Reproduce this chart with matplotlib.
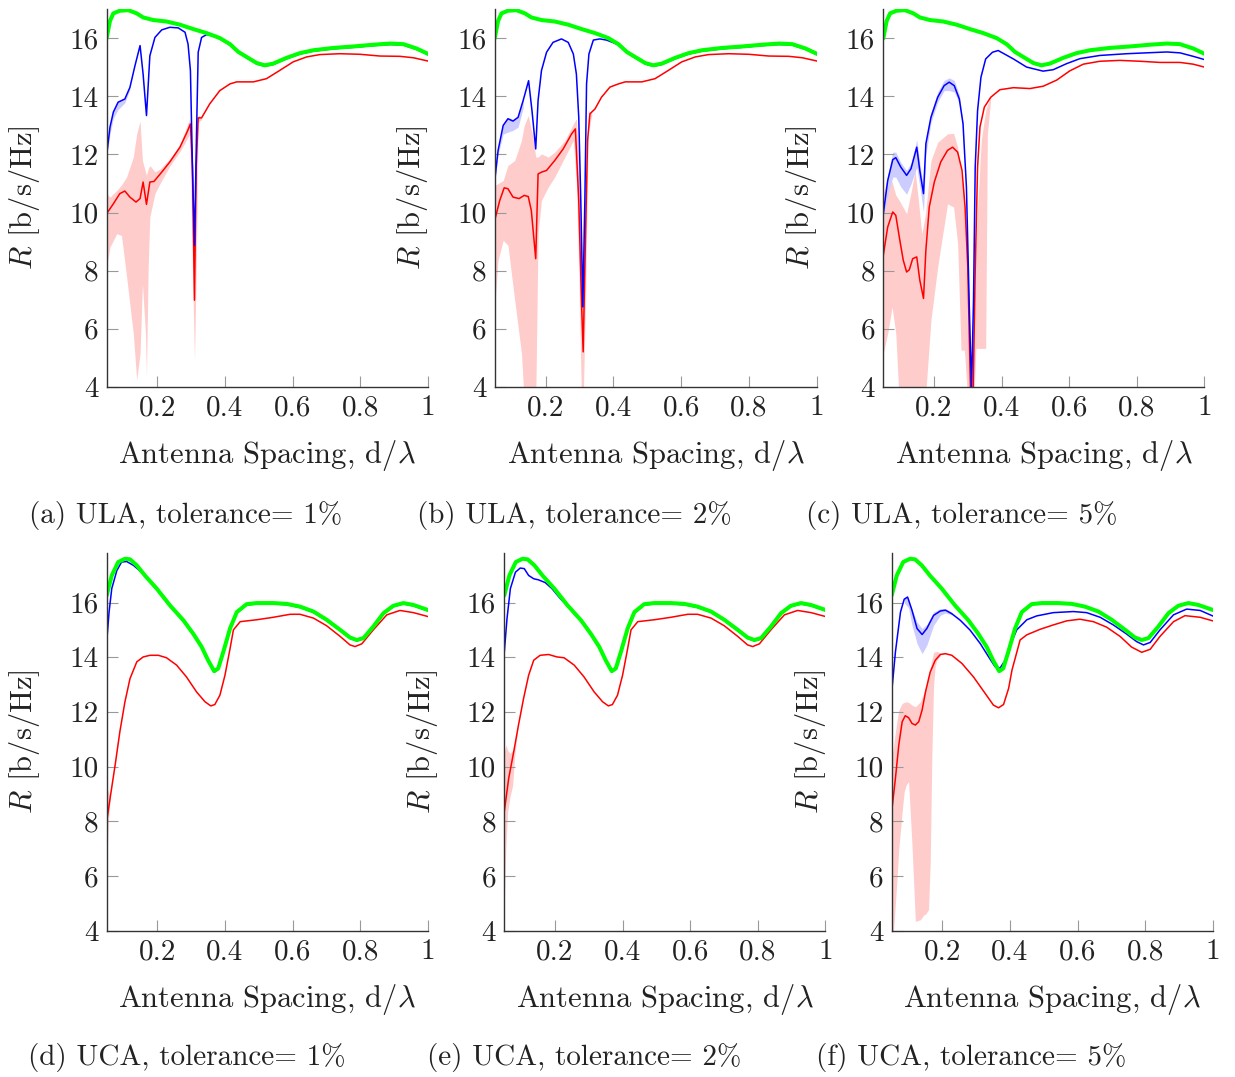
import matplotlib.pyplot as plt

plt.rcParams['font.family'] = 'cmr10'
plt.rcParams['mathtext.fontset'] = 'cm'
plt.rcParams['axes.formatter.use_mathtext'] = True

# ---------------- data ----------------
# ideal curve, shared by the three ULA panels
x_green_ula = [0.05, 0.06, 0.07, 0.089, 0.114, 0.139, 0.158, 0.188, 0.227, 0.267, 0.306, 0.346,
               0.385, 0.415, 0.44, 0.464, 0.494, 0.518, 0.543, 0.583, 0.622, 0.662, 0.721, 0.78,
               0.839, 0.889, 0.928, 0.967, 1.0]
green_ula = [16.0, 16.6, 16.86, 16.95, 16.97, 16.86, 16.72, 16.63, 16.58, 16.47, 16.32, 16.18,
             16.01, 15.8, 15.53, 15.36, 15.15, 15.07, 15.13, 15.33, 15.49, 15.59, 15.67, 15.72,
             15.78, 15.82, 15.8, 15.65, 15.47]

# ideal curve, shared by the three UCA panels
x_green_uca = [0.05, 0.065, 0.084, 0.104, 0.119, 0.139, 0.163, 0.198, 0.237, 0.277, 0.306, 0.331,
               0.35, 0.368, 0.38, 0.395, 0.415, 0.435, 0.464, 0.494, 0.543, 0.583, 0.622, 0.662,
               0.701, 0.741, 0.77, 0.79, 0.81, 0.839, 0.869, 0.898, 0.928, 0.958, 1.0]
green_uca = [16.26, 16.99, 17.48, 17.6, 17.58, 17.36, 16.99, 16.51, 15.9, 15.35, 14.86, 14.38,
             13.89, 13.49, 13.59, 14.19, 15.05, 15.65, 15.94, 15.98, 15.98, 15.95, 15.85, 15.67,
             15.37, 15.0, 14.72, 14.63, 14.7, 15.12, 15.61, 15.88, 15.98, 15.91, 15.73]

# tail of the ULA curves (x >= 0.415) where blue sits on the green line
x_tail_ula = [0.415, 0.44, 0.464, 0.494, 0.518, 0.543, 0.583, 0.622, 0.662, 0.721, 0.78, 0.839,
              0.889, 0.928, 0.967, 1.0]
blue_tail_ula = [15.77, 15.51, 15.33, 15.12, 15.04, 15.1, 15.3, 15.46, 15.56, 15.64, 15.69, 15.75,
                 15.79, 15.77, 15.62, 15.44]
x_red_tail_ula = [0.435, 0.484, 0.523, 0.563, 0.602, 0.642, 0.681, 0.74, 0.8, 0.859, 0.918, 0.958, 1.0]
red_tail_ula = [14.5, 14.5, 14.61, 14.9, 15.19, 15.36, 15.44, 15.47, 15.45, 15.39, 15.38, 15.33, 15.22]

# (a) ULA 1%
x_blue_a = [0.05, 0.06, 0.07, 0.084, 0.104, 0.119, 0.134, 0.149, 0.158, 0.168, 0.178, 0.193, 0.213,
            0.237, 0.262, 0.282, 0.291, 0.298, 0.304, 0.31, 0.316, 0.321, 0.331, 0.346, 0.365, 0.385] + x_tail_ula
blue_a = [11.97, 12.94, 13.46, 13.8, 13.91, 14.31, 15.06, 15.75, 14.77, 13.34, 15.4, 16.03, 16.29,
          16.38, 16.36, 16.21, 15.8, 14.89, 11.56, 8.87, 12.71, 15.52, 16.03, 16.13, 16.08, 15.98] + blue_tail_ula
xs_blue_a = [0.05, 0.06, 0.07, 0.084, 0.104, 0.119]
blue_lo_a = [11.9, 12.7, 13.25, 13.55, 13.78, 14.25]
blue_hi_a = [12.05, 13.0, 13.5, 13.83, 13.93, 14.33]
x_red_a = [0.05, 0.07, 0.089, 0.104, 0.119, 0.137, 0.149, 0.158, 0.168, 0.178, 0.19, 0.213, 0.237,
           0.267, 0.288, 0.298, 0.304, 0.31, 0.315, 0.321, 0.331, 0.355, 0.385, 0.415] + x_red_tail_ula
red_a = [9.96, 10.3, 10.65, 10.74, 10.53, 10.36, 10.48, 11.05, 10.28, 11.05, 11.07, 11.39, 11.74,
         12.25, 12.77, 13.05, 11.56, 6.98, 11.56, 13.26, 13.26, 13.74, 14.2, 14.43] + red_tail_ula
xs_red_a = [0.05, 0.06, 0.08, 0.094, 0.109, 0.129, 0.139, 0.149, 0.156, 0.165, 0.168, 0.173, 0.178,
            0.193, 0.208, 0.237, 0.267, 0.296, 0.304, 0.31, 0.315, 0.321, 0.331]
red_hi_a = [10.65, 10.53, 10.76, 10.95, 11.22, 11.91, 12.71, 13.15, 11.79, 11.4, 11.28, 11.5, 11.62,
            11.4, 11.5, 11.85, 12.35, 13.23, 12.0, 9.0, 12.0, 13.35, 13.3]
red_lo_a = [8.13, 8.81, 9.27, 9.21, 7.8, 5.83, 4.23, 5.15, 7.55, 5.83, 4.34, 8.13, 9.85,
            10.65, 11.0, 11.6, 12.1, 12.7, 8.0, 4.92, 8.0, 13.1, 13.2]

# (b) ULA 2%
x_blue_b = [0.05, 0.06, 0.075, 0.089, 0.104, 0.119, 0.134, 0.15, 0.16, 0.171, 0.178, 0.188, 0.203,
            0.222, 0.247, 0.267, 0.282, 0.291, 0.298, 0.304, 0.31, 0.316, 0.321, 0.328, 0.341, 0.36,
            0.38, 0.4] + x_tail_ula
blue_b = [11.1, 12.14, 13.0, 13.23, 13.15, 13.28, 13.86, 14.54, 13.51, 12.19, 13.86, 14.89, 15.52,
          15.86, 15.98, 15.86, 15.46, 14.77, 13.28, 10.42, 6.75, 10.42, 14.43, 15.46, 15.94, 15.98,
          15.94, 15.85] + blue_tail_ula
xs_blue_b = [0.05, 0.06, 0.075, 0.089, 0.104, 0.119, 0.134]
blue_lo_b = [11.0, 12.0, 12.7, 12.77, 12.83, 12.94, 13.6]
blue_hi_b = [11.15, 12.2, 13.05, 13.28, 13.2, 13.32, 13.9]
x_red_b = [0.05, 0.065, 0.078, 0.089, 0.104, 0.122, 0.137, 0.149, 0.158, 0.171, 0.178, 0.188, 0.203,
           0.227, 0.252, 0.277, 0.288, 0.298, 0.306, 0.311, 0.318, 0.324, 0.331, 0.346, 0.365, 0.39,
           0.415] + x_red_tail_ula
red_b = [9.73, 10.42, 10.85, 10.82, 10.53, 10.48, 10.59, 10.55, 10.07, 8.41, 11.33, 11.39, 11.45,
         11.79, 12.19, 12.71, 12.88, 10.42, 6.98, 5.2, 9.27, 12.48, 13.4, 13.57, 13.97, 14.32,
         14.43] + red_tail_ula
xs_red_b = [0.05, 0.06, 0.075, 0.089, 0.109, 0.129, 0.137, 0.149, 0.163, 0.171, 0.178, 0.188, 0.208,
            0.227, 0.257, 0.282, 0.291, 0.298, 0.306, 0.311, 0.318, 0.326, 0.336]
red_hi_b = [10.93, 11.0, 11.1, 11.62, 11.79, 12.48, 13.0, 13.34, 12.6, 11.91, 11.91, 12.02, 11.91,
            12.08, 12.48, 13.05, 13.23, 12.0, 9.0, 7.0, 10.5, 13.51, 13.45]
red_lo_b = [6.75, 8.36, 9.04, 8.87, 6.98, 5.15, 3.5, 3.5, 3.5, 3.5, 9.27, 10.42, 10.88,
            11.22, 11.91, 12.48, 11.0, 8.13, 3.5, 3.5, 7.0, 12.71, 13.35]

# (c) ULA 5%
x_blue_c = [0.05, 0.063, 0.078, 0.087, 0.102, 0.119, 0.132, 0.149, 0.158, 0.169, 0.176, 0.191, 0.211,
            0.23, 0.245, 0.26, 0.275, 0.286, 0.296, 0.304, 0.311, 0.317, 0.322, 0.329, 0.339, 0.353,
            0.373, 0.39, 0.435, 0.474, 0.523, 0.553, 0.593, 0.632, 0.691, 0.77, 0.829, 0.889, 0.928,
            0.967, 1.0]
blue_c = [9.96, 11.1, 11.82, 11.89, 11.56, 11.28, 11.51, 12.25, 11.45, 10.65, 12.37, 13.28, 13.97,
          14.37, 14.49, 14.37, 13.91, 13.05, 10.88, 6.98, 3.9, 6.98, 11.56, 13.51, 14.66, 15.29,
          15.52, 15.58, 15.29, 15.01, 14.87, 14.92, 15.13, 15.3, 15.41, 15.47, 15.5, 15.53, 15.5,
          15.38, 15.27]
xs_blue_c = [0.05, 0.063, 0.078, 0.087, 0.102, 0.119, 0.132, 0.149, 0.158, 0.169, 0.176, 0.191, 0.211,
             0.23, 0.245, 0.26, 0.275, 0.286]
blue_lo_c = [9.8, 10.59, 11.22, 11.22, 10.88, 10.63, 10.99, 11.56, 10.9, 10.02, 12.0, 13.1, 13.8,
             14.2, 14.2, 14.15, 13.75, 12.95]
blue_hi_c = [10.0, 11.3, 12.08, 12.08, 11.72, 11.45, 11.7, 12.5, 11.7, 10.88, 12.5, 13.45, 14.15,
             14.55, 14.64, 14.55, 14.05, 13.1]
x_red_c = [0.05, 0.063, 0.078, 0.087, 0.099, 0.109, 0.119, 0.127, 0.137, 0.149, 0.158, 0.169, 0.176,
           0.186, 0.201, 0.22, 0.24, 0.255, 0.27, 0.283, 0.292, 0.3, 0.308, 0.316, 0.322, 0.329, 0.336,
           0.349, 0.368, 0.395, 0.435, 0.484, 0.523, 0.563, 0.602, 0.642, 0.691, 0.75, 0.81, 0.869,
           0.928, 0.967, 1.0]
red_c = [8.53, 9.5, 10.02, 9.9, 9.04, 8.36, 7.95, 8.03, 8.41, 8.47, 7.67, 7.04, 8.7,
         10.19, 11.05, 11.74, 12.14, 12.25, 12.08, 11.45, 10.19, 8.13, 3.9, 3.9, 8.0, 11.56, 12.94,
         13.63, 13.97, 14.23, 14.3, 14.27, 14.35, 14.56, 14.88, 15.11, 15.21, 15.24, 15.21, 15.17,
         15.17, 15.11, 15.01]
xs_red_c = [0.05, 0.063, 0.076, 0.087, 0.097, 0.119, 0.134, 0.144, 0.154, 0.164, 0.174, 0.191, 0.211,
            0.24, 0.258, 0.27, 0.28, 0.29, 0.3, 0.308, 0.318, 0.324, 0.34, 0.353, 0.358, 0.368]
red_hi_c = [10.65, 11.22, 11.05, 10.6, 10.42, 9.96, 10.8, 11.45, 10.4, 9.27, 9.9, 11.79, 12.42,
            12.71, 12.73, 12.25, 11.33, 10.5, 8.5, 5.0, 6.0, 9.0, 12.5, 13.51, 13.7, 14.0]
red_lo_c = [5.15, 5.83, 6.75, 5.83, 3.5, 3.5, 3.5, 3.5, 3.5, 3.5, 3.5, 6.29, 8.13,
            10.3, 10.19, 8.93, 5.26, 5.26, 3.5, 3.5, 3.5, 5.32, 5.32, 5.32, 12.71, 13.9]

# tail of the UCA curves shared by (d) and (e)
x_tail_uca = [0.237, 0.277, 0.306, 0.331, 0.35, 0.368, 0.38, 0.395, 0.415, 0.435, 0.464, 0.494, 0.543,
              0.583, 0.622, 0.662, 0.701, 0.741, 0.77, 0.79, 0.81, 0.839, 0.869, 0.898, 0.928, 0.958, 1.0]
blue_tail_uca = [15.87, 15.32, 14.83, 14.35, 13.86, 13.46, 13.56, 14.16, 15.02, 15.62, 15.91, 15.95,
                 15.95, 15.92, 15.82, 15.64, 15.34, 14.97, 14.69, 14.6, 14.67, 15.09, 15.58, 15.85,
                 15.95, 15.88, 15.7]
x_red_tail_uca = [0.227, 0.257, 0.286, 0.316, 0.341, 0.358, 0.37, 0.385, 0.4, 0.415, 0.425, 0.445,
                  0.494, 0.543, 0.593, 0.622, 0.662, 0.701, 0.741, 0.77, 0.785, 0.805, 0.839, 0.879,
                  0.918, 0.958, 1.0]
red_tail_uca = [13.98, 13.71, 13.28, 12.73, 12.37, 12.22, 12.27, 12.61, 13.34, 14.31, 15.0, 15.3,
                15.37, 15.46, 15.57, 15.57, 15.43, 15.15, 14.76, 14.45, 14.39, 14.49, 15.0, 15.55,
                15.71, 15.63, 15.49]

# (d) UCA 1%
x_blue_d = [0.05, 0.057, 0.065, 0.08, 0.094, 0.109, 0.129, 0.153, 0.178, 0.198] + x_tail_uca
blue_d = [14.56, 15.65, 16.51, 17.17, 17.48, 17.5, 17.36, 17.11, 16.75, 16.48] + blue_tail_uca
x_red_d = [0.05, 0.06, 0.075, 0.089, 0.104, 0.119, 0.139, 0.158, 0.178, 0.203] + x_red_tail_uca
red_d = [7.99, 8.84, 10.06, 11.28, 12.37, 13.22, 13.83, 14.01, 14.07, 14.07] + red_tail_uca
xs_red_d = [0.05, 0.055, 0.06]
red_hi_d = [9.15, 9.1, 8.9]
red_lo_d = [6.4, 8.0, 8.8]

# (e) UCA 2%
x_blue_e = [0.05, 0.058, 0.068, 0.083, 0.097, 0.109, 0.122, 0.137, 0.151, 0.171, 0.191, 0.216] + x_tail_uca
blue_e = [14.19, 15.41, 16.51, 17.11, 17.26, 17.24, 16.99, 16.87, 16.83, 16.73, 16.51, 16.14] + blue_tail_uca
x_red_e = [0.05, 0.063, 0.078, 0.092, 0.107, 0.122, 0.137, 0.156, 0.181, 0.206] + x_red_tail_uca
red_e = [8.36, 9.57, 10.55, 11.52, 12.49, 13.34, 13.89, 14.07, 14.1, 14.01] + red_tail_uca
xs_red_e = [0.05, 0.055, 0.06, 0.067, 0.075, 0.08, 0.09]
red_hi_e = [10.55, 10.79, 10.6, 10.48, 10.6, 10.7, 11.45]
red_lo_e = [5.07, 7.14, 8.36, 8.9, 9.33, 10.3, 11.4]

# (f) UCA 5%
x_blue_f = [0.05, 0.061, 0.076, 0.087, 0.097, 0.11, 0.125, 0.14, 0.154, 0.174, 0.194, 0.209, 0.228,
            0.253, 0.282, 0.312, 0.337, 0.356, 0.371, 0.386, 0.401, 0.42, 0.45, 0.479, 0.528, 0.588,
            0.627, 0.667, 0.706, 0.745, 0.775, 0.795, 0.815, 0.844, 0.884, 0.923, 0.963, 1.0]
blue_f = [12.73, 14.19, 15.65, 16.12, 16.2, 15.72, 15.05, 14.83, 15.05, 15.53, 15.69, 15.72, 15.59,
          15.35, 14.99, 14.5, 14.01, 13.65, 13.61, 13.89, 14.44, 15.0, 15.37, 15.51, 15.63, 15.67,
          15.63, 15.46, 15.18, 14.85, 14.57, 14.45, 14.54, 15.0, 15.55, 15.76, 15.71, 15.51]
xs_blue_f = [0.087, 0.1, 0.11, 0.125, 0.14, 0.154, 0.174, 0.194, 0.209, 0.228]
blue_lo_f = [16.0, 15.8, 15.17, 14.5, 14.13, 14.44, 15.17, 15.53, 15.62, 15.55]
blue_hi_f = [16.2, 16.15, 15.75, 15.29, 15.05, 15.2, 15.65, 15.78, 15.78, 15.65]
x_red_f = [0.05, 0.061, 0.071, 0.081, 0.09, 0.1, 0.11, 0.12, 0.13, 0.14, 0.15, 0.164, 0.179, 0.194,
           0.209, 0.228, 0.258, 0.292, 0.327, 0.351, 0.366, 0.381, 0.396, 0.406, 0.43, 0.45, 0.489,
           0.528, 0.568, 0.607, 0.647, 0.686, 0.726, 0.76, 0.79, 0.815, 0.844, 0.884, 0.918, 0.963, 1.0]
red_f = [8.36, 9.57, 10.79, 11.64, 11.86, 11.79, 11.58, 11.52, 11.64, 12.07, 12.73, 13.46, 13.89,
         14.1, 14.13, 14.07, 13.77, 13.28, 12.67, 12.25, 12.15, 12.27, 12.86, 13.53, 14.63, 14.82,
         15.02, 15.18, 15.33, 15.39, 15.3, 15.1, 14.76, 14.37, 14.18, 14.29, 14.76, 15.3, 15.52,
         15.46, 15.33]
xs_red_f = [0.05, 0.056, 0.061, 0.066, 0.071, 0.081, 0.087, 0.093, 0.1, 0.105, 0.11, 0.12, 0.135,
            0.145, 0.15, 0.159, 0.164, 0.169, 0.174, 0.179, 0.184, 0.194]
red_hi_f = [10.3, 10.8, 11.28, 11.7, 12.07, 12.31, 12.35, 12.37, 12.35, 12.3, 12.25, 12.19, 12.37,
            12.7, 12.86, 13.3, 13.6, 13.9, 14.19, 14.19, 14.22, 14.15]
red_lo_f = [3.5, 4.1, 5.0, 5.92, 7.0, 8.36, 9.09, 9.33, 9.45, 8.3, 7.14, 4.34, 4.4,
            4.58, 4.6, 4.77, 6.5, 10.5, 13.0, 13.7, 13.9, 14.05]

captions = ['(a) ULA, tolerance= 1%', '(b) ULA, tolerance= 2%', '(c) ULA, tolerance= 5%',
            '(d) UCA, tolerance= 1%', '(e) UCA, tolerance= 2%', '(f) UCA, tolerance= 5%']
x_ticks = [0.2, 0.4, 0.6, 0.8, 1.0]
x_ticklabels = ['0.2', '0.4', '0.6', '0.8', '1']
y_ticks = [4, 6, 8, 10, 12, 14, 16]

# ---------------- layout ----------------
W, H = 1235, 1077
# axes boxes in pixels: left, right, top, bottom
boxes = [(106.6, 427.7, 9.3, 386.7), (494.7, 816.7, 9.3, 386.7), (883.3, 1204.3, 9.3, 386.7),
         (106.7, 427.7, 553.3, 930.7), (504.3, 825.3, 553.3, 930.7), (891.7, 1212.7, 553.3, 930.7)]
caption_x = [186, 574, 962, 187, 584, 971]
caption_y = [515, 515, 515, 1058, 1058, 1058]

panels = [
    (x_green_ula, green_ula, x_blue_a, blue_a, xs_blue_a, blue_lo_a, blue_hi_a,
     x_red_a, red_a, xs_red_a, red_lo_a, red_hi_a, 17.0),
    (x_green_ula, green_ula, x_blue_b, blue_b, xs_blue_b, blue_lo_b, blue_hi_b,
     x_red_b, red_b, xs_red_b, red_lo_b, red_hi_b, 17.0),
    (x_green_ula, green_ula, x_blue_c, blue_c, xs_blue_c, blue_lo_c, blue_hi_c,
     x_red_c, red_c, xs_red_c, red_lo_c, red_hi_c, 17.0),
    (x_green_uca, green_uca, x_blue_d, blue_d, None, None, None,
     x_red_d, red_d, xs_red_d, red_lo_d, red_hi_d, 17.8),
    (x_green_uca, green_uca, x_blue_e, blue_e, None, None, None,
     x_red_e, red_e, xs_red_e, red_lo_e, red_hi_e, 17.8),
    (x_green_uca, green_uca, x_blue_f, blue_f, xs_blue_f, blue_lo_f, blue_hi_f,
     x_red_f, red_f, xs_red_f, red_lo_f, red_hi_f, 17.8),
]

fig = plt.figure(figsize=(W / 100, H / 100), dpi=100)
fs = 21

for i, p in enumerate(panels):
    (xg, g, xb, b, xsb, blo, bhi, xr, r, xsr, rlo, rhi, ytop) = p
    l, rt, t, bt = boxes[i]
    ax = fig.add_axes([l / W, 1 - bt / H, (rt - l) / W, (bt - t) / H])

    if xsr is not None:
        ax.fill_between(xsr, rlo, rhi, color='#ffcccc', lw=0)
    if xsb is not None:
        ax.fill_between(xsb, blo, bhi, color='#ccccff', lw=0)
    ax.plot(xr, r, color='#ff0000', lw=1.1)
    ax.plot(xb, b, color='#0000ff', lw=1.1)
    ax.plot(xg, g, color='#00ff00', lw=2.9, solid_capstyle='round')

    ax.set_xlim(0.05, 1.0)
    ax.set_ylim(4, ytop)
    ax.set_xticks(x_ticks)
    ax.set_xticklabels(x_ticklabels)
    ax.set_yticks(y_ticks)
    ax.set_yticklabels([str(v) for v in y_ticks])
    ax.tick_params(direction='in', length=8, width=0.8, color='#999999',
                   labelsize=fs, labelcolor='#222222', pad=6)
    for s in ['top', 'right']:
        ax.spines[s].set_visible(False)
    for s in ['left', 'bottom']:
        ax.spines[s].set_color('#333333')
        ax.spines[s].set_linewidth(1.0)

    ax.set_ylabel(r'$R$ [b/s/Hz]', fontsize=fs + 1, color='#222222')
    ax.yaxis.set_label_coords(-0.20, 0.5)
    ax.set_xlabel(r'Antenna Spacing, d/$\lambda$', fontsize=fs + 1, color='#222222')
    ax.xaxis.set_label_coords(0.5, -0.135)

    fig.text(caption_x[i] / W, 1 - caption_y[i] / H, captions[i], fontsize=fs,
             ha='center', va='center', color='#222222')

fig.savefig('out.png', dpi=100)
